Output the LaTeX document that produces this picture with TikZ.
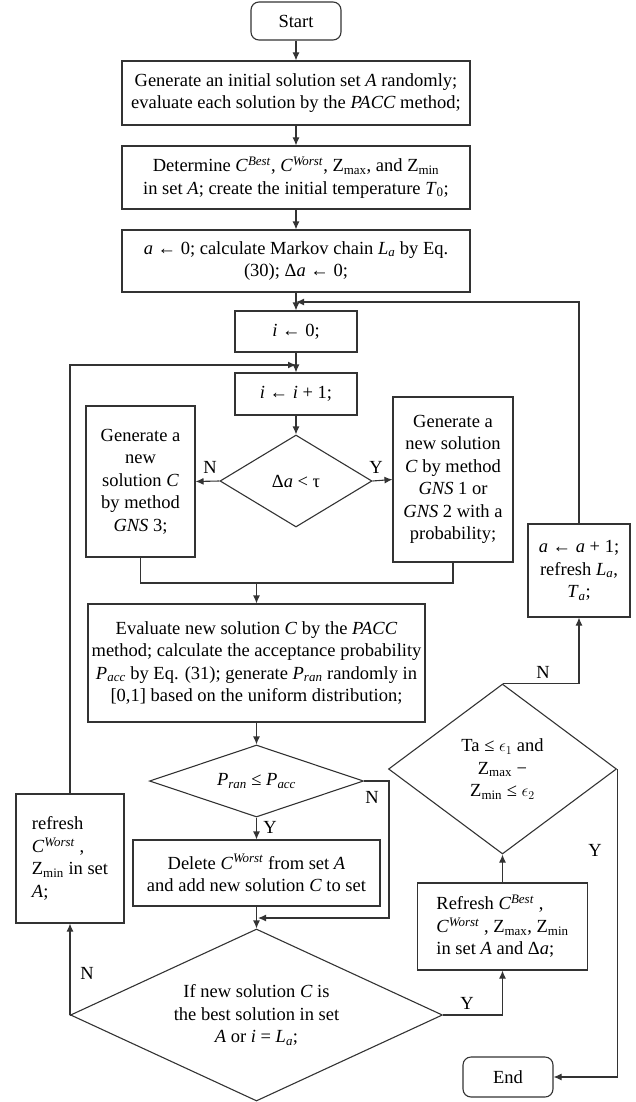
\documentclass[tikz,border=0pt]{standalone}
\usepackage{fontspec}
\setmainfont{Liberation Serif}
\usetikzlibrary{shapes.geometric,arrows.meta,calc}
\newcommand{\Cb}{\textit{C}\textsuperscript{\textit{Best}}}
\newcommand{\Cw}{\textit{C}\textsuperscript{\textit{Worst}}}
\newcommand{\Zx}{Z\textsubscript{max}}
\newcommand{\Zn}{Z\textsubscript{min}}
\begin{document}
\begin{tikzpicture}[x=1pt,y=-1pt,
 every node/.style={font=\fontsize{18.5}{22.5}\selectfont, text=black},
 box/.style={draw=black!80, line width=1.1pt, align=center, inner sep=3pt},
 rbox/.style={box, rounded corners=8pt},
 dia/.style={draw=black!80, line width=1.1pt, shape=diamond, inner sep=0pt, align=center},
 line/.style={draw=black!80, line width=1.1pt},
 arr/.style={line, -{Latex[length=8pt,width=7pt]}},
 lab/.style={inner sep=0pt}
]
\useasboundingbox (0,0) rectangle (636,1102);

% main column
\node[rbox, minimum width=90pt, minimum height=38pt] (start) at (296,21) {Start};
\node[box, minimum width=348pt, minimum height=64pt] (b1) at (296,93)
  {Generate an initial solution set \textit{A} randomly;\\evaluate each solution by the \textit{PACC} method;};
\node[box, minimum width=348pt, minimum height=63pt] (b2) at (296,177.5)
  {Determine \Cb, \Cw, \Zx, and \Zn\\in set \textit{A}; create the initial temperature \textit{T}\textsubscript{0};};
\node[box, minimum width=348pt, minimum height=62pt] (b3) at (296,261)
  {\textit{a} ← 0; calculate Markov chain \textit{L}\textsubscript{\textit{a}} by Eq.\\(30); Δ\textit{a} ← 0;};
\coordinate (m1) at (296,302);
\node[box, minimum width=122pt, minimum height=41pt] (i0) at (296,331.5) {\textit{i} ← 0;};
\coordinate (m2) at (296,365);
\node[box, minimum width=122pt, minimum height=42pt] (ii) at (296,394) {\textit{i} ← \textit{i} + 1;};
\node[dia, minimum width=152pt, minimum height=92pt, aspect=1.65] (d1) at (296,481) {Δ\textit{a} < τ};

\node[box, minimum width=109pt, minimum height=151pt] (g3) at (140.5,481.5)
  {Generate a\\new\\solution \textit{C}\\by method\\\textit{GNS} 3;};
\node[box, minimum width=120pt, minimum height=165pt] (g12) at (453,479.5)
  {Generate a\\new solution\\\textit{C} by method\\\textit{GNS} 1 or\\\textit{GNS} 2 with a\\probability;};
\coordinate (m3) at (256.5,583);

\node[box, minimum width=337pt, minimum height=118pt, inner sep=2pt] (ev) at (256.5,663)
  {Evaluate new solution \textit{C} by the \textit{PACC}\\method; calculate the acceptance probability\\\textit{P}\textsubscript{\textit{acc}} by Eq. (31); generate \textit{P}\textsubscript{\textit{ran}} randomly in\\{[0,1]} based on the uniform distribution;};
\node[dia, minimum width=214pt, minimum height=72pt, aspect=2.97] (d2) at (256.5,781)
  {\textit{P}\textsubscript{\textit{ran}} ≤ \textit{P}\textsubscript{\textit{acc}}};
\node[box, minimum width=247pt, minimum height=66pt] (del) at (256.5,873)
  {Delete \Cw{} from set \textit{A}\\and add new solution \textit{C} to set};
\coordinate (m4) at (258,918);
\coordinate (pn) at (389,918);
\node[dia, minimum width=372pt, minimum height=172pt, aspect=2.16] (d3) at (256.5,1015)
  {If new solution \textit{C} is\\the best solution in set\\\textit{A} or \textit{i} = \textit{L}\textsubscript{\textit{a}};};

% left
\node[box, minimum width=108pt, minimum height=129pt, align=left] (rl) at (70,858.5)
  {refresh\\\Cw{} ,\\\Zn{} in set\\\textit{A};};

% right
\node[box, minimum width=170pt, minimum height=87pt, align=left] (rb) at (502.5,926.5)
  {Refresh \Cb{} ,\\\Cw{} , \Zx, \Zn\\in set \textit{A} and Δ\textit{a};};
\node[dia, minimum width=228pt, minimum height=170pt, aspect=1.34] (d4) at (502.5,769)
  {Ta ≤ $\epsilon_1$ and\\\Zx{} −\\\Zn{} ≤ $\epsilon_2$};
\node[box, minimum width=102pt, minimum height=93pt] (ab) at (579,570.5)
  {\textit{a} ← \textit{a} + 1;\\refresh \textit{L}\textsubscript{\textit{a}},\\\textit{T}\textsubscript{\textit{a}};};
\node[rbox, minimum width=90pt, minimum height=40pt] (end) at (508,1077) {End};

% connectors
\draw[arr] (start) -- (b1);
\draw[arr] (b1) -- (b2);
\draw[arr] (b2) -- (b3);
\draw[arr] (b3) -- (i0);
\draw[arr] (i0) -- (ii);
\draw[arr] (ii) -- (d1);
\draw[arr] (d1.west) -- (g3.east);
\draw[arr] (d1.east) -- (g12.west);
\draw[line] (g3.south) |- (m3) -| (g12.south);
\draw[arr] (m3) -- (ev);
\draw[arr] (ev) -- (d2);
\draw[arr] (d2) -- (del);
\draw[arr] (del) -- (d3);
\draw[arr] (d2.east) -| (pn) -- (m4);
\draw[arr] (d3.west) -| (rl.south);
\draw[arr] (rl.north) |- (m2);
\draw[arr] (d3.east) -| (rb.south);
\draw[arr] (rb) -- (d4);
\draw[arr] (d4.north) -| (ab.south);
\draw[arr] (ab.north) |- (m1);
\draw[arr] (d4.east) |- (end.east);

% labels
\node[lab] (n1) at (210,467) {N};
\node[lab] (y1) at (376,467) {Y};
\node[lab] (y2) at (270,827) {Y};
\node[lab] (n2) at (372,797) {N};
\node[lab] (n3) at (87,973) {N};
\node[lab] (y3) at (467,1003) {Y};
\node[lab] (n4) at (543,672) {N};
\node[lab] (y4) at (595,850) {Y};
\end{tikzpicture}
\end{document}
